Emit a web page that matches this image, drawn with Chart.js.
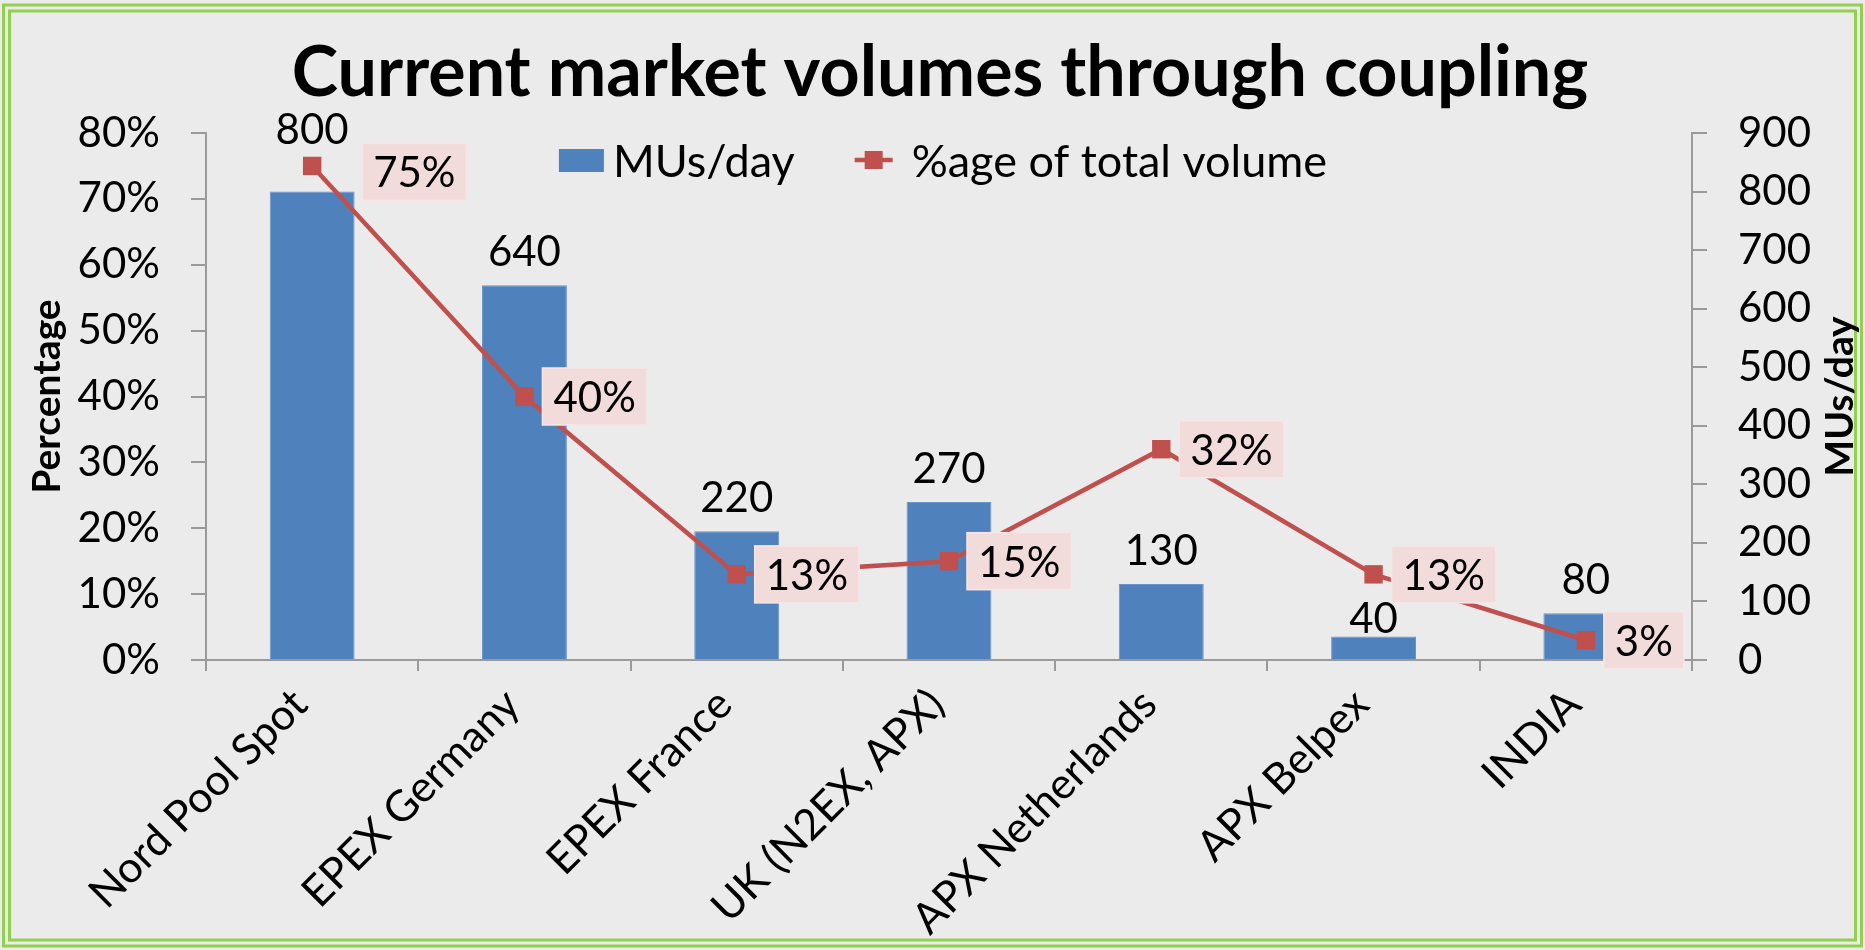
<!DOCTYPE html>
<html>
<head>
<meta charset="utf-8">
<title>Current market volumes through coupling</title>
<script src="https://cdn.jsdelivr.net/npm/chart.js@4.4.1/dist/chart.umd.min.js"></script>
<style>
  html, body { margin: 0; padding: 0; background: #ececec; }
  #wrap { position: relative; width: 1865px; height: 950px; }
</style>
</head>
<body>
<div id="wrap"><canvas id="chart" width="1865" height="950"></canvas></div>
<script>
// data
const markets = ['Nord Pool Spot', 'EPEX Germany', 'EPEX France', 'UK (N2EX, APX)', 'APX Netherlands', 'APX Belpex', 'INDIA'];
const musPerDay = [800, 640, 220, 270, 130, 40, 80];
const shareOfTotal = [0.75, 0.40, 0.13, 0.15, 0.32, 0.13, 0.03];

const TITLE = 'Current market volumes through coupling';
const LEFT_TITLE = 'Percentage';
const RIGHT_TITLE = 'MUs/day';

const FONT = 'Lato, "Open Sans", sans-serif';
const BLUE = '#4F81BD';
const RED = '#C0504D';
const GREEN = '#92D050';
const AXIS = '#9a9a9a';

// chart area edges in the reference
const AREA = { left: 206, right: 1692, top: 133, bottom: 660 };

const decor = {
    id: 'decor',
    beforeDraw(chart) {
        const ctx = chart.ctx;
        ctx.save();
        ctx.fillStyle = '#ebebeb';
        ctx.fillRect(0, 0, chart.width, chart.height);
        ctx.strokeStyle = GREEN;
        ctx.lineWidth = 3;
        ctx.strokeRect(3.5, 5, 1858, 941);
        ctx.strokeRect(9.5, 11, 1846, 929);
        ctx.restore();
    },
    afterDatasetsDraw(chart, args, opts) {
        const ctx = chart.ctx;
        ctx.save();
        ctx.font = '42px ' + FONT;
        ctx.fillStyle = '#000';

        // value labels above the bars
        ctx.textAlign = 'center';
        ctx.textBaseline = 'alphabetic';
        chart.getDatasetMeta(0).data.forEach((bar, i) => {
            ctx.fillText(String(musPerDay[i]), bar.x, bar.y - 19 - (opts.barLift[i] || 0));
        });

        // boxed percentage labels right of the points
        ctx.textAlign = 'left';
        ctx.textBaseline = 'middle';
        chart.getDatasetMeta(1).data.forEach((pt, i) => {
            const txt = Math.round(shareOfTotal[i] * 100) + '%';
            const w = ctx.measureText(txt).width + 22;
            const h = 57;
            const nx = opts.boxNudge[i] ? opts.boxNudge[i][0] : 0;
            const ny = opts.boxNudge[i] ? opts.boxNudge[i][1] : 0;
            const x = pt.x + 18 + nx;
            const y = pt.y - h / 2 + ny;
            ctx.fillStyle = '#f2dcdb';
            ctx.fillRect(x, y, w, h);
            ctx.strokeStyle = '#f8e6e6';
            ctx.lineWidth = 1.5;
            ctx.strokeRect(x, y, w, h);
            ctx.fillStyle = '#000';
            ctx.fillText(txt, x + 11, pt.y + ny + 2);
        });
        ctx.restore();
    },
    afterDraw(chart) {
        const ctx = chart.ctx;
        const ca = chart.chartArea;
        ctx.save();
        ctx.fillStyle = '#000';

        // title
        ctx.font = 'bold 70px ' + FONT;
        ctx.textAlign = 'center';
        ctx.textBaseline = 'alphabetic';
        ctx.fillText(TITLE, 940, 96);

        // axis titles, both reading bottom to top
        const midY = (ca.top + ca.bottom) / 2;
        ctx.font = 'bold 39px ' + FONT;
        ctx.textBaseline = 'middle';
        [[47, LEFT_TITLE], [1840, RIGHT_TITLE]].forEach(([x, t]) => {
            ctx.save();
            ctx.translate(x, midY);
            ctx.rotate(-Math.PI / 2);
            ctx.fillText(t, 0, 0);
            ctx.restore();
        });

        // legend inside the plot, centred
        ctx.font = '45px ' + FONT;
        ctx.textAlign = 'left';
        const ds = chart.data.datasets;
        const w1 = ctx.measureText(ds[0].label).width;
        const w2 = ctx.measureText(ds[1].label).width;
        const total = 45 + 9 + w1 + 60 + 38 + 19 + w2;
        let x = (ca.left + ca.right) / 2 - 6 - total / 2;
        const ly = 160;
        ctx.fillStyle = BLUE;
        ctx.fillRect(x, ly - 11, 45, 23);
        x += 54;
        ctx.fillStyle = '#000';
        ctx.fillText(ds[0].label, x, ly + 2);
        x += w1 + 60;
        ctx.strokeStyle = RED;
        ctx.lineWidth = 4.5;
        ctx.beginPath();
        ctx.moveTo(x, ly);
        ctx.lineTo(x + 38, ly);
        ctx.stroke();
        ctx.fillStyle = RED;
        ctx.fillRect(x + 10, ly - 9, 18, 18);
        x += 57;
        ctx.fillStyle = '#000';
        ctx.fillText(ds[1].label, x, ly + 2);
        ctx.restore();
    }
};

new Chart(document.getElementById('chart'), {
    type: 'bar',
    data: {
        labels: markets,
        datasets: [
            {
                label: 'MUs/day',
                data: musPerDay,
                yAxisID: 'yRight',
                backgroundColor: BLUE,
                borderColor: '#6a94c8',
                borderWidth: 1,
                barPercentage: 0.4,
                categoryPercentage: 1,
                order: 2
            },
            {
                label: '%age of total volume',
                data: shareOfTotal,
                type: 'line',
                yAxisID: 'yLeft',
                borderColor: RED,
                backgroundColor: RED,
                borderWidth: 4.5,
                pointStyle: 'rect',
                pointRadius: 13,
                pointBorderWidth: 0,
                tension: 0,
                order: 1
            }
        ]
    },
    options: {
        responsive: false,
        animation: false,
        layout: { padding: { left: 15, right: 0, top: AREA.top, bottom: 0 } },
        plugins: {
            legend: { display: false },
            title: { display: false },
            tooltip: { enabled: false },
            decor: {
                barLift: [29, 0, 0, 0, 0, -15, 0],
                boxNudge: [[32, 6]]
            }
        },
        scales: {
            x: {
                offset: true,
                grid: { offset: true, drawOnChartArea: false, drawTicks: true, tickLength: 11, color: AXIS, lineWidth: 2 },
                border: { display: true, color: AXIS, width: 2 },
                ticks: {
                    color: '#000',
                    font: { family: FONT, size: 43 },
                    minRotation: 45,
                    maxRotation: 45,
                    autoSkip: false,
                    labelOffset: -12,
                    padding: 8
                },
                afterFit(scale) { scale.height = 950 - AREA.bottom; }
            },
            yLeft: {
                position: 'left',
                min: 0,
                max: 0.8,
                grid: { drawOnChartArea: false, drawTicks: true, tickLength: 15, color: AXIS, lineWidth: 2 },
                border: { display: true, color: AXIS, width: 2 },
                ticks: {
                    stepSize: 0.1,
                    color: '#000',
                    padding: 31,
                    font: { family: FONT, size: 42 },
                    callback: v => Math.round(v * 100) + '%'
                },
                afterFit(scale) { scale.width = AREA.left - 15; }
            },
            yRight: {
                position: 'right',
                min: 0,
                max: 900,
                grid: { drawOnChartArea: false, drawTicks: true, tickLength: 15, color: AXIS, lineWidth: 2 },
                border: { display: true, color: AXIS, width: 2 },
                ticks: {
                    stepSize: 100,
                    color: '#000',
                    padding: 31,
                    font: { family: FONT, size: 42 }
                },
                afterFit(scale) { scale.width = 1865 - AREA.right; }
            }
        }
    },
    plugins: [decor]
});
</script>
</body>
</html>
